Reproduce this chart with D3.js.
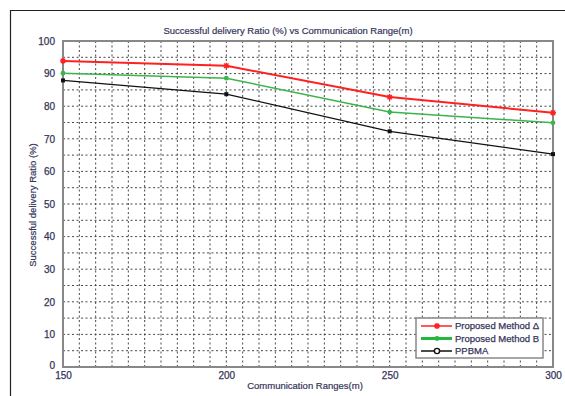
<!DOCTYPE html>
<html>
<head>
<meta charset="utf-8">
<script src="https://cdn.jsdelivr.net/npm/d3@7"></script>
<style>
  body { margin: 0; background: #fff; }
  text { font-family: "Liberation Sans", Arial, sans-serif; }
</style>
</head>
<body>
<svg class="svg-container" width="565" height="396"></svg>
<script>
// chart data
const ranges = [150, 200, 250, 300];
const methodA = [93.9, 92.4, 82.8, 78.0];
const methodB = [90.1, 88.6, 78.2, 74.9];
const ppbma = [87.9, 83.7, 72.3, 65.3];
const xTickLabels = [150, 200, 250, 300];
const yTickLabels = [0, 10, 20, 30, 40, 50, 60, 70, 80, 90, 100];

const series = [
  { name: 'Proposed Method Δ', values: methodA, color: '#ff2020', legendColor: '#ff2020', width: 2, marker: 'star' },
  { name: 'Proposed Method B', values: methodB, color: '#3cb44b', legendColor: '#22b83c', width: 1.5, marker: 'dot' },
  { name: 'PPBMA', values: ppbma, color: '#111', legendColor: '#111', width: 1.2, marker: 'square' },
];

const svg = d3.select('.svg-container');
const textColor = '#35355a';
const fontSize = '9.5px';

// outer frame (cropped on right/bottom like the screenshot)
svg.append('path')
  .attr('d', 'M10.5,396 L10.5,10.5 L565,10.5')
  .attr('fill', 'none').attr('stroke', '#222').attr('stroke-width', 1.2);

const x = d3.scaleLinear().domain([150, 300]).range([63, 553]);
const y = d3.scaleLinear().domain([0, 100]).range([367, 41]);

// grid every 5 units, dashed
const g = svg.append('g');
g.selectAll('.vgrid')
  .data(d3.range(155, 300, 5))
  .enter().append('line')
  .attr('x1', d => x(d)).attr('x2', d => x(d))
  .attr('y1', y(0)).attr('y2', y(100))
  .attr('stroke', '#333').attr('stroke-width', 0.9)
  .attr('stroke-dasharray', '2,2.5');
g.selectAll('.hgrid')
  .data(d3.range(5, 100, 5))
  .enter().append('line')
  .attr('x1', x(150)).attr('x2', x(300))
  .attr('y1', d => y(d)).attr('y2', d => y(d))
  .attr('stroke', '#333').attr('stroke-width', 0.9)
  .attr('stroke-dasharray', '2,2.5');

// axes
const yAxis = d3.axisLeft(y).tickValues(yTickLabels).tickSize(0).tickPadding(8);
const xAxis = d3.axisBottom(x).tickValues(xTickLabels).tickSize(0).tickPadding(5);

const ya = svg.append('g').attr('transform', `translate(${x(150)},0)`).call(yAxis);
const xa = svg.append('g').attr('transform', `translate(0,${y(0)})`).call(xAxis);
[ya, xa].forEach(a => {
  a.select('.domain').remove();
  a.selectAll('text').attr('fill', textColor).style('font-size', '10px')
    .attr('stroke', textColor).attr('stroke-width', 0.25);
});
ya.selectAll('text').filter(d => d === 0).attr('dy', '0.1em');

// plot box
svg.append('rect')
  .attr('x', x(150)).attr('y', y(100))
  .attr('width', x(300) - x(150)).attr('height', y(0) - y(100))
  .attr('fill', 'none').attr('stroke', '#888').attr('stroke-width', 2);

// lines
const line = d3.line()
  .x((d, i) => x(ranges[i]))
  .y(d => y(d));

function drawMarker(sel, type, color) {
  if (type === 'star') {
    sel.append('path').attr('d', 'M-3,0H3M0,-3V3M-2.2,-2.2L2.2,2.2M-2.2,2.2L2.2,-2.2')
      .attr('stroke', color).attr('stroke-width', 1.4);
  } else if (type === 'dot') {
    sel.append('circle').attr('r', 2.4).attr('fill', color);
  } else if (type === 'square') {
    sel.append('rect').attr('x', -2).attr('y', -2).attr('width', 4).attr('height', 4).attr('fill', color);
  } else if (type === 'ring') {
    sel.append('circle').attr('r', 2.6).attr('fill', '#fff').attr('stroke', color).attr('stroke-width', 1.4);
  }
}

series.forEach(s => {
  svg.append('path')
    .datum(s.values)
    .attr('fill', 'none')
    .attr('stroke', s.color)
    .attr('stroke-width', s.width)
    .attr('d', line);
  s.values.forEach((v, i) => {
    const m = svg.append('g').attr('transform', `translate(${x(ranges[i])},${y(v)})`);
    drawMarker(m, s.marker, s.color);
  });
});

// legend
const legend = svg.append('g').attr('transform', 'translate(416,318)');
legend.append('rect')
  .attr('width', 127).attr('height', 40)
  .attr('fill', '#fff').attr('stroke', '#888').attr('stroke-width', 1.5);
const legendMarkers = ['star', 'dot', 'ring'];
const legendWidths = [1.5, 3, 1.5];
series.forEach((s, i) => {
  const row = legend.append('g').attr('transform', `translate(0,${8 + i * 12.5})`);
  row.append('line')
    .attr('x1', 5).attr('x2', 36).attr('y1', 0).attr('y2', 0)
    .attr('stroke', s.legendColor).attr('stroke-width', legendWidths[i]);
  const m = row.append('g').attr('transform', 'translate(21,0)');
  drawMarker(m, legendMarkers[i], s.legendColor);
  row.append('text')
    .attr('x', 39).attr('y', 0).attr('dy', '0.35em')
    .attr('fill', textColor)
    .attr('stroke', textColor).attr('stroke-width', 0.25)
    .style('font-size', fontSize)
    .text(s.name);
});

// title and axis labels
const labels = [
  { text: 'Successful delivery Ratio (%) vs Communication Range(m)', t: 'translate(288,34)' },
  { text: 'Communication Ranges(m)', t: 'translate(305,389)' },
  { text: 'Successful delivery Ratio (%)', t: 'translate(36,205) rotate(-90)' },
];
labels.forEach(l => {
  svg.append('text')
    .attr('transform', l.t)
    .attr('text-anchor', 'middle').attr('fill', textColor)
    .attr('stroke', textColor).attr('stroke-width', 0.2)
    .style('font-size', fontSize)
    .text(l.text);
});
</script>
</body>
</html>
